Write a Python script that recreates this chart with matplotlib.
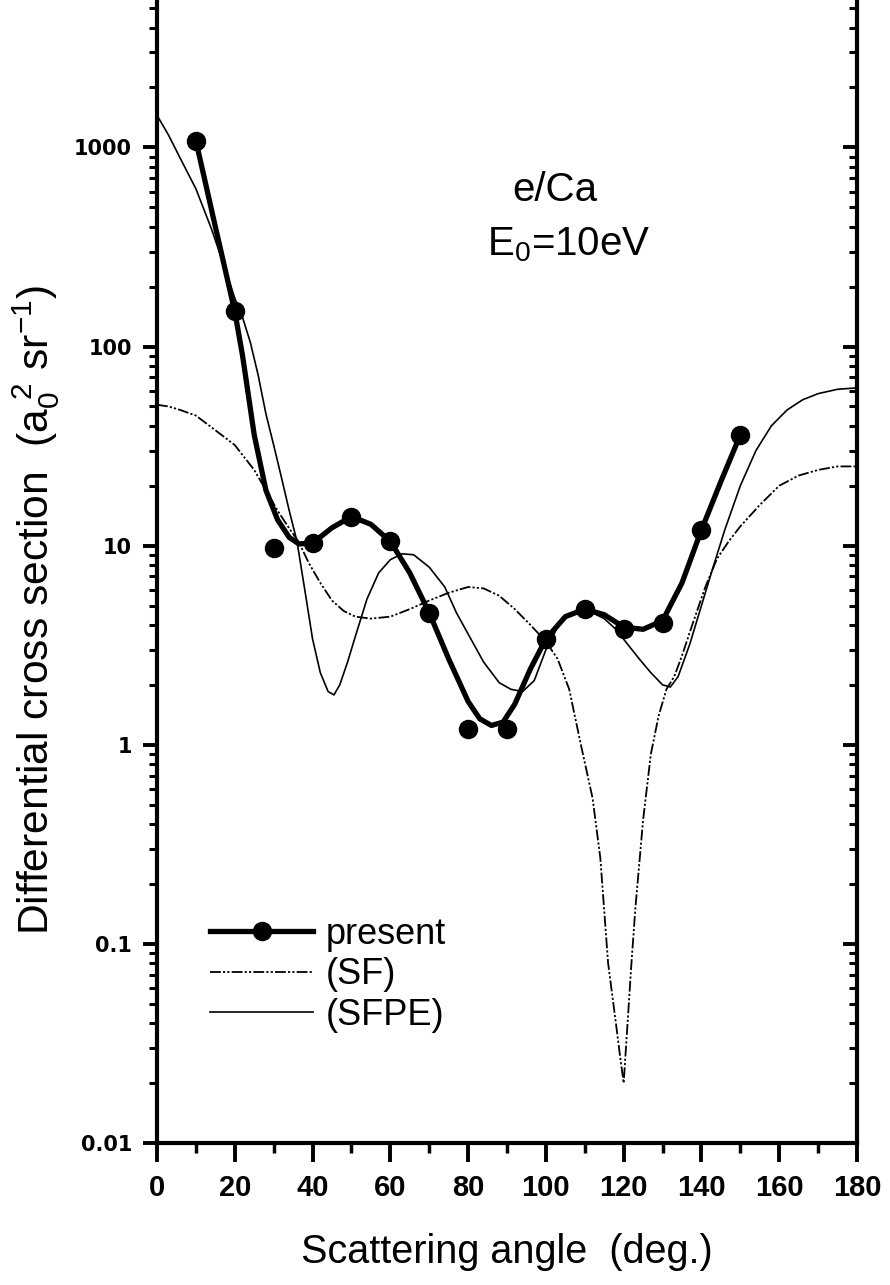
import matplotlib
matplotlib.use("Agg")
import matplotlib.pyplot as plt
from matplotlib import font_manager
from matplotlib.ticker import FixedLocator, FixedFormatter, NullFormatter

# ---------------- data ----------------
present_angle = [10, 20, 30, 40, 50, 60, 70, 80, 90, 100, 110, 120, 130, 140, 150]
present_dcs = [1080, 150, 9.7, 10.3, 14.0, 10.5, 4.6, 1.2, 1.2, 3.4, 4.8, 3.8, 4.1, 12.0, 36.0]

present_line_angle = [10, 15, 20, 22, 25, 28, 31, 34, 36.5, 40, 45, 50, 55, 60, 65, 70, 75,
                      80, 83, 86, 89, 92, 96, 100, 105, 110, 115, 120, 125, 130, 135, 140,
                      145, 150]
present_line_dcs = [1080, 400, 150, 90, 36, 19, 13.5, 11, 10.2, 10.3, 12.3, 14.0, 12.8, 10.5,
                    7.3, 4.6, 2.7, 1.65, 1.35, 1.25, 1.3, 1.6, 2.4, 3.4, 4.4, 4.8, 4.5, 3.9,
                    3.8, 4.2, 6.5, 12.0, 21, 36]

sf_angle = [0, 3, 6, 10, 15, 20, 25, 28, 31, 34, 36.5, 39, 42, 45, 48, 51, 55, 60, 65, 70,
            75, 80, 84, 88, 92, 96, 100, 103, 106, 109, 112, 114, 116, 118, 119, 120, 121,
            122, 123, 125, 127, 129, 131, 133, 135, 138, 141, 144, 147, 150, 155, 160, 165,
            170, 175, 180]
sf_dcs = [51, 50, 48, 45, 38, 32, 24, 19, 15, 12.2, 10.4, 8.2, 6.5, 5.3, 4.7, 4.4, 4.3, 4.4,
          4.8, 5.3, 5.8, 6.2, 6.1, 5.6, 4.8, 4.0, 3.3, 2.7, 1.9, 1.0, 0.54, 0.27, 0.08, 0.04,
          0.028, 0.02, 0.04, 0.08, 0.15, 0.42, 0.9, 1.4, 1.9, 2.2, 2.8, 4.2, 6.2, 8.6, 10.5,
          12.5, 16, 20, 22.5, 24, 25, 25]

sfpe_angle = [0, 3, 6, 10, 14, 18, 20, 22, 24, 26, 28, 30, 32, 34, 36, 38, 40, 42, 44, 45.5,
              47, 49, 51, 54, 57, 60, 63, 66, 70, 74, 77, 80, 84, 88, 91, 94, 97, 100, 103,
              106, 109, 112, 115, 118, 121, 124, 127, 130, 132, 134, 137, 140, 143, 146, 150,
              154, 158, 162, 166, 170, 175, 180]
sfpe_dcs = [1450, 1150, 880, 620, 390, 230, 175, 140, 105, 72, 46, 32, 22, 15, 10.5, 6.0, 3.4,
            2.3, 1.85, 1.78, 2.0, 2.6, 3.5, 5.4, 7.3, 8.5, 9.1, 9.0, 7.8, 6.2, 4.6, 3.6, 2.6,
            2.05, 1.9, 1.85, 2.1, 3.0, 3.9, 4.5, 4.7, 4.6, 4.3, 3.8, 3.2, 2.7, 2.3, 2.0, 1.95,
            2.2, 3.2, 5.0, 7.8, 12, 20, 30, 40, 48, 54, 58, 61, 62]

y_major = [0.01, 0.1, 1, 10, 100, 1000]
y_labels = ["0.01", "0.1", "1", "10", "100", "1000"]
x_major = [0, 20, 40, 60, 80, 100, 120, 140, 160, 180]
x_labels = ["0", "20", "40", "60", "80", "100", "120", "140", "160", "180"]
x_minor = [10, 30, 50, 70, 90, 110, 130, 150, 170]
legend_labels = ["present", "(SF)", "(SFPE)"]

# ---------------- fonts ----------------
names = {f.name for f in font_manager.fontManager.ttflist}
have_narrow = "Liberation Sans Narrow" in names
NARROW = "Liberation Sans Narrow" if have_narrow else "Liberation Sans"
NSCALE = 1.0 if have_narrow else 0.84
plt.rcParams["font.family"] = ["Liberation Sans", "DejaVu Sans"]
plt.rcParams["mathtext.default"] = "regular"

W, H = 890, 1285
fig = plt.figure(figsize=(W / 100, H / 100), dpi=100)
x0, x1, yb = 157, 857, 1143
ax = fig.add_axes([x0 / W, 1 - yb / H, (x1 - x0) / W, yb / H])

ax.set_yscale("log")
ax.set_xlim(0, 180)
ax.set_ylim(0.01, 5500)

# curves
ax.plot(sfpe_angle, sfpe_dcs, color="black", lw=1.2, label=legend_labels[2], zorder=2)
ax.plot(sf_angle, sf_dcs, color="black", lw=1.3,
        linestyle=(0, (6, 1.2, 1.2, 1.2, 1.2, 1.2)), label=legend_labels[1], zorder=2)
ax.plot(present_line_angle, present_line_dcs, color="black", lw=3.8, zorder=3,
        solid_joinstyle="round")
ax.plot(present_angle, present_dcs, linestyle="none", marker="o", ms=13,
        color="black", zorder=4)
present_handle, = ax.plot([], [], color="black", lw=3.8, marker="o", ms=13,
                          label=legend_labels[0])

# spines
ax.spines["top"].set_visible(False)
ax.spines["right"].set_visible(False)
for s in ("left", "bottom"):
    ax.spines[s].set_linewidth(3.0)

# ticks
ax.xaxis.set_major_locator(FixedLocator(x_major))
ax.xaxis.set_major_formatter(FixedFormatter(x_labels))
ax.xaxis.set_minor_locator(FixedLocator(x_minor))
ax.yaxis.set_major_locator(FixedLocator(y_major))
ax.yaxis.set_major_formatter(FixedFormatter(y_labels))
ax.yaxis.set_minor_formatter(NullFormatter())
ax.tick_params(axis="x", which="major", direction="out", length=14, width=2.8, pad=8)
ax.tick_params(axis="x", which="minor", direction="out", length=7, width=2.5)
ax.tick_params(axis="y", which="major", direction="out", length=10, width=2.8, pad=8)
ax.tick_params(axis="y", which="minor", direction="out", length=5.5, width=2.2)
for lab in ax.get_xticklabels():
    lab.set_fontfamily([NARROW, "DejaVu Sans"])
    lab.set_fontsize(25 * NSCALE)
    lab.set_fontweight("bold")
for lab in ax.get_yticklabels():
    lab.set_fontfamily(["DejaVu Sans"])
    lab.set_fontsize(15)
    lab.set_fontweight("bold")

# right axis with inward ticks
ax2 = ax.twinx()
ax2.set_yscale("log")
ax2.set_ylim(ax.get_ylim())
for s in ("left", "top", "bottom"):
    ax2.spines[s].set_visible(False)
ax2.spines["right"].set_linewidth(3.0)
ax2.yaxis.set_major_locator(FixedLocator(y_major))
ax2.yaxis.set_major_formatter(NullFormatter())
ax2.yaxis.set_minor_formatter(NullFormatter())
ax2.tick_params(axis="y", which="major", direction="in", length=10, width=2.8)
ax2.tick_params(axis="y", which="minor", direction="in", length=5.5, width=2.2)

# axis titles
fig.text(507 / W, 1 - 1252 / H, "Scattering angle  (deg.)", ha="center", va="center",
         fontsize=34 * NSCALE, family=[NARROW, "DejaVu Sans"])
fig.text(36 / W, 1 - 610 / H,
         r"Differential cross section  (a$_0^{\ 2}$ sr$^{-1}$)",
         rotation=90, ha="center", va="center", fontsize=36.5 * NSCALE,
         family=[NARROW, "DejaVu Sans"])

# annotations
fig.text(512 / W, 1 - 190 / H, "e/Ca", ha="left", va="center", fontsize=29)
fig.text(487 / W, 1 - 245 / H, r"E$_0$=10eV", ha="left", va="center", fontsize=29)

# legend
handles = [present_handle] + [l for l in ax.get_lines()[:2]][::-1]
leg = ax.legend(handles, legend_labels, loc="upper left",
                bbox_to_anchor=(210 / W, 1 - 917 / H), bbox_transform=fig.transFigure,
                frameon=False, fontsize=26, handlelength=2.86, handletextpad=0.35,
                labelspacing=0.15, borderpad=0, borderaxespad=0, numpoints=1)

fig.savefig("out.png", dpi=100)
